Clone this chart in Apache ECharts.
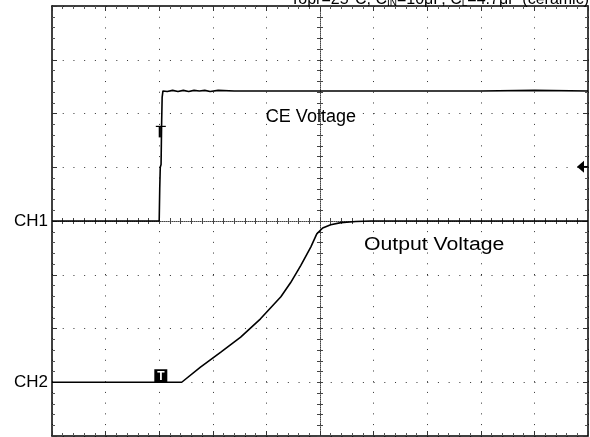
<!DOCTYPE html>
<html>
<head>
<meta charset="utf-8">
<script src="https://cdn.jsdelivr.net/npm/echarts@6/dist/echarts.min.js"></script>
<style>html,body{margin:0;padding:0;background:#fff}#c{width:590px;height:437px}</style>
</head>
<body>
<div id="c"></div>
<script>
// Horizontal position in divisions (0..10), vertical level in divisions (0..8)
const ceTime = [0, 2.0, 2.01, 2.02, 2.035, 2.045, 2.055, 2.07, 2.15, 2.25, 2.35, 2.45, 2.55, 2.65, 2.75, 2.85, 2.95, 3.1, 3.4, 4.0, 5.0, 6.0, 7.0, 8.0, 9.0, 10.0];
const ceLevel = [4.0, 4.0, 4.6, 5.0, 5.05, 5.8, 6.3, 6.42, 6.41, 6.43, 6.41, 6.43, 6.41, 6.43, 6.42, 6.43, 6.41, 6.43, 6.42, 6.42, 6.42, 6.42, 6.42, 6.42, 6.43, 6.42];
const outTime = [0, 2.42, 2.77, 3.15, 3.52, 3.89, 4.27, 4.45, 4.64, 4.83, 4.94, 5.05, 5.2, 5.39, 5.67, 5.95, 10.0];
const outLevel = [1.0, 1.0, 1.28, 1.56, 1.84, 2.18, 2.59, 2.85, 3.17, 3.52, 3.76, 3.87, 3.93, 3.97, 3.99, 4.0, 4.0];
const channelLabels = {4: 'CH1', 1: 'CH2'};
const titleParts = ['Topr=25°C, C', 'IN', '=10μF, C', 'L', '=4.7μF (ceramic)'];
const traceNames = ['CE Voltage', 'Output Voltage'];

const chart = echarts.init(document.getElementById('c'), null, {renderer: 'canvas'});
const FONT = '"Liberation Sans", Arial, sans-serif';
const gridRect = {left: 52, top: 6, right: 2, bottom: 1};
const dotted = {show: true, lineStyle: {type: [1, 9.72], color: '#333', width: 1}};
function borderAxis(dim, pos, min, max, extra) {
  return Object.assign({
    gridIndex: 0, type: 'value', position: pos, min: min, max: max, interval: 1,
    axisLine: {show: true, onZero: false, lineStyle: {color: '#000', width: 1.5}},
    axisTick: {show: true, inside: true, length: 5, lineStyle: {color: '#333'}},
    minorTick: {show: true, splitNumber: 5, length: 3, lineStyle: {color: '#555'}},
    splitLine: {show: false}, axisLabel: {show: false}
  }, extra || {});
}
function centerAxis(gi, min, max, inside, pos) {
  return {
    gridIndex: gi, type: 'value', min: min, max: max, interval: 1, position: pos,
    axisLine: {show: !inside, onZero: true, lineStyle: {color: '#444', width: 1, type: [1, 1]}},
    axisTick: {show: true, inside: inside, length: 3, lineStyle: {color: '#444'}},
    minorTick: {show: true, splitNumber: 5, length: 3, lineStyle: {color: '#444'}},
    splitLine: {show: false}, axisLabel: {show: false}
  };
}
const option = {
  animation: false,
  backgroundColor: '#fff',
  grid: [Object.assign({}, gridRect), Object.assign({}, gridRect), Object.assign({}, gridRect)],
  xAxis: [
    borderAxis('x', 'bottom', 0, 10, {splitLine: dotted}),
    borderAxis('x', 'top', 0, 10),
    centerAxis(1, -5, 5, false, 'bottom'),
    centerAxis(2, -5, 5, true, 'bottom')
  ],
  yAxis: [
    borderAxis('y', 'left', 0, 8, {splitLine: dotted, axisLabel: {show: true, margin: 4, color: '#000', fontSize: 17, fontFamily: FONT,
      formatter: v => channelLabels[v] || ''}}),
    borderAxis('y', 'right', 0, 8),
    centerAxis(1, -4, 4, false, 'left'),
    centerAxis(2, -4, 4, true, 'left')
  ],
  series: [
    {name: traceNames[0], type: 'line', xAxisIndex: 0, yAxisIndex: 0, showSymbol: false, z: 5,
     data: ceTime.map((t, i) => [t, ceLevel[i]]), lineStyle: {color: '#000', width: 1.6}},
    {name: traceNames[1], type: 'line', xAxisIndex: 0, yAxisIndex: 0, showSymbol: false, z: 5,
     data: outTime.map((t, i) => [t, outLevel[i]]), lineStyle: {color: '#000', width: 1.6}}
  ]
};
chart.setOption(option);

const px = p => chart.convertToPixel({gridIndex: 0}, p);
const ceLab = px([4.83, 5.94]);
const outLab = px([7.13, 3.56]);
const trig = px([2.03, 1.0]);
const cur = px([2.03, 5.76]);
const lvl = px([10, 5.01]);
const tr = px([10, 8]);
chart.setOption({
  graphic: [
    {type: 'text', x: tr[0] + 1, y: 8, z: 10, style: {
      text: '{n|' + titleParts[0] + '}{s|' + titleParts[1] + '}{n|' + titleParts[2] + '}{s|' + titleParts[3] + '}{n|' + titleParts[4] + '}',
      align: 'right', verticalAlign: 'bottom',
      rich: {n: {fontSize: 16, fontFamily: FONT, fill: '#000'}, s: {fontSize: 10, fontFamily: FONT, fill: '#000', padding: [7, 0, 0, 0]}}
    }},
    {type: 'text', x: ceLab[0], y: ceLab[1], z: 10, style: {text: traceNames[0], align: 'center', verticalAlign: 'middle', fontSize: 18, fontFamily: FONT, fill: '#000'}},
    {type: 'text', x: outLab[0], y: outLab[1], scaleX: 1.18, z: 10, style: {text: traceNames[1], align: 'center', verticalAlign: 'middle', fontSize: 18, fontFamily: FONT, fill: '#000'}},
    {type: 'rect', z: 10, shape: {x: trig[0] - 6.5, y: trig[1] - 13, width: 13, height: 13}, style: {fill: '#000'}},
    {type: 'text', z: 11, x: trig[0], y: trig[1] - 6, style: {text: 'T', align: 'center', verticalAlign: 'middle', fontSize: 12, fontWeight: 'bold', fontFamily: FONT, fill: '#fff'}},
    {type: 'line', z: 10, shape: {x1: cur[0] - 5, y1: cur[1], x2: cur[0] + 5, y2: cur[1]}, style: {stroke: '#000', lineWidth: 1.2}},
    {type: 'line', z: 10, shape: {x1: cur[0] - 1, y1: cur[1], x2: cur[0] - 1, y2: cur[1] + 11}, style: {stroke: '#000', lineWidth: 2.2}},
    {type: 'polygon', z: 10, shape: {points: [[lvl[0] - 11, lvl[1]], [lvl[0] - 4, lvl[1] - 6], [lvl[0] - 4, lvl[1] + 6]]}, style: {fill: '#000'}},
    {type: 'line', z: 10, shape: {x1: lvl[0] - 5, y1: lvl[1], x2: lvl[0], y2: lvl[1]}, style: {stroke: '#000', lineWidth: 1.5}}
  ]
});
</script>
</body>
</html>
